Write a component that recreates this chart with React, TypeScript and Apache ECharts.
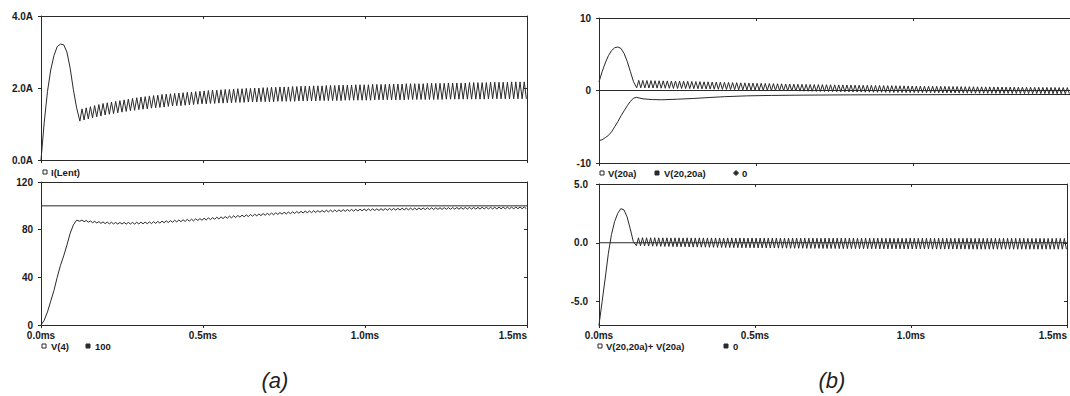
import { useEffect, useRef } from "react";
import * as echarts from "echarts";

// ---------- data ----------
const X_TICKS_MS = [0, 0.5, 1.0, 1.5];
const RIPPLE_START = 0.12; // ms, end of the start-up transient
const RIPPLE_PERIOD = 0.013; // ms, switching period
const TRANSIENT_T = [0, 0.01, 0.02, 0.03, 0.04, 0.05, 0.06, 0.07, 0.08, 0.09, 0.1, 0.11];

// (a) top: I(Lent)
const I_LENT_TRANSIENT = [0, 1.05, 1.9, 2.5, 2.9, 3.15, 3.22, 3.2, 3.0, 2.55, 1.95, 1.45];
const I_LENT_PEAKS = [
  1.42, 1.45, 1.48, 1.51, 1.54, 1.57,
  1.59, 1.61, 1.63, 1.65, 1.67, 1.69, 1.71, 1.73,
  1.75, 1.76, 1.78, 1.79, 1.8, 1.82, 1.83, 1.84,
  1.85, 1.86, 1.87, 1.88, 1.89, 1.9, 1.91, 1.92,
  1.93, 1.94, 1.94, 1.95, 1.96, 1.96, 1.97, 1.98,
  1.98, 1.99, 1.99, 2.0, 2.0, 2.01, 2.01, 2.02,
  2.02, 2.03, 2.03, 2.03, 2.04, 2.04, 2.05, 2.05,
  2.05, 2.06, 2.06, 2.06, 2.07, 2.07, 2.07, 2.08,
  2.08, 2.08, 2.08, 2.09, 2.09, 2.09, 2.09, 2.1,
  2.1, 2.1, 2.1, 2.11, 2.11, 2.11, 2.11, 2.12,
  2.12, 2.12, 2.12, 2.12, 2.13, 2.13, 2.13, 2.13,
  2.13, 2.14, 2.14, 2.14, 2.14, 2.14, 2.15, 2.15,
  2.15, 2.15, 2.15, 2.16, 2.16, 2.16, 2.16, 2.16,
  2.17, 2.17, 2.17, 2.17,
];
const I_LENT_TROUGHS = [
  1.08, 1.11, 1.14, 1.17, 1.2, 1.22, 1.25,
  1.27, 1.29, 1.31, 1.33, 1.35, 1.37, 1.38, 1.4,
  1.41, 1.42, 1.44, 1.45, 1.46, 1.47, 1.49,
  1.5, 1.51, 1.51, 1.52, 1.53, 1.54, 1.55, 1.56,
  1.56, 1.57, 1.57, 1.58, 1.58, 1.59, 1.59, 1.6,
  1.6, 1.6, 1.61, 1.61, 1.61, 1.62, 1.62, 1.62,
  1.62, 1.63, 1.63, 1.63, 1.63, 1.63, 1.64, 1.64, 1.64, 1.64, 1.64, 1.65, 1.65, 1.65, 1.65,
  1.65, 1.65, 1.66, 1.66, 1.66, 1.66, 1.66, 1.66, 1.66, 1.67, 1.67, 1.67, 1.67, 1.67, 1.67, 1.67, 1.67, 1.68, 1.68, 1.68, 1.68, 1.68, 1.68,
  1.68, 1.68, 1.68, 1.69, 1.69, 1.69, 1.69, 1.69, 1.69, 1.69, 1.69, 1.69, 1.69, 1.7, 1.7, 1.7, 1.7, 1.7, 1.7, 1.7, 1.7, 1.7, 1.7,
];

// (a) bottom: V(4) and the 100 reference
const V4_TRANSIENT = [0, 4, 11, 20, 29, 40, 50, 58, 67, 77, 84, 88];
const V4_PEAKS = [
  88.1, 87.7, 87.3, 87.0, 86.7, 86.5, 86.3, 86.2, 86.1, 86.1,
  86.1, 86.1, 86.1, 86.2, 86.3, 86.4, 86.5, 86.7, 86.9, 87.2,
  87.4, 87.6, 87.9, 88.1, 88.3, 88.6, 88.8, 89.1, 89.3, 89.6,
  89.9, 90.1, 90.4, 90.7, 91.0, 91.3, 91.6, 91.9, 92.2, 92.4,
  92.7, 93.0, 93.2, 93.5, 93.7, 93.9, 94.2, 94.4, 94.6, 94.8,
  95.0, 95.2, 95.4, 95.6, 95.7, 95.9, 96.0, 96.1, 96.3, 96.4,
  96.5, 96.6, 96.8, 96.9, 97.0, 97.1, 97.2, 97.3, 97.4, 97.5,
  97.5, 97.6, 97.7, 97.8, 97.8, 97.9, 98.0, 98.0, 98.1, 98.1,
  98.2, 98.2, 98.3, 98.3, 98.4, 98.4, 98.5, 98.5, 98.6, 98.6,
  98.6, 98.7, 98.7, 98.7, 98.7, 98.8, 98.8, 98.8, 98.8, 98.9,
  98.9, 98.9, 98.9, 99.0, 99.0, 99.0,
];
const V4_TROUGHS = [
  87.0, 86.7, 86.3, 85.9, 85.6, 85.3, 85.1, 84.9, 84.8, 84.7,
  84.7, 84.7, 84.7, 84.7, 84.8, 84.9, 85.0, 85.1, 85.3, 85.5,
  85.8, 86.0, 86.2, 86.5, 86.7, 86.9, 87.2, 87.4, 87.7, 87.9,
  88.2, 88.5, 88.7, 89.0, 89.3, 89.6, 89.9, 90.2, 90.5, 90.8,
  91.0, 91.3, 91.6, 91.8, 92.1, 92.3, 92.5, 92.8, 93.0, 93.2,
  93.4, 93.6, 93.8, 94.0, 94.2, 94.3, 94.5, 94.6, 94.7, 94.9,
  95.0, 95.1, 95.2, 95.4, 95.5, 95.6, 95.7, 95.8, 95.9, 96.0,
  96.1, 96.1, 96.2, 96.3, 96.4, 96.4, 96.5, 96.6, 96.6, 96.7,
  96.7, 96.8, 96.8, 96.9, 96.9, 97.0, 97.0, 97.1, 97.1, 97.2,
  97.2, 97.2, 97.3, 97.3, 97.3, 97.3, 97.4, 97.4, 97.4, 97.4,
  97.5, 97.5, 97.5, 97.5, 97.6, 97.6, 97.6,
];
const REF_100 = 100;

// (b) top: V(20a), V(20,20a), 0
const V20A_TRANSIENT = [1.2, 2.6, 3.8, 4.8, 5.5, 5.9, 6.0, 5.8, 5.1, 4.0, 2.6, 1.2];
const V20A_PEAKS = [
  1.4, 1.39, 1.38, 1.37, 1.35, 1.34, 1.33, 1.32, 1.31, 1.3, 1.29, 1.28, 1.26, 1.25,
  1.23, 1.22, 1.2, 1.19, 1.17, 1.16, 1.14, 1.12, 1.11, 1.09, 1.08, 1.06, 1.05, 1.03, 1.02, 1.0,
  0.99, 0.97, 0.96, 0.95, 0.93, 0.92, 0.9, 0.89, 0.88, 0.86, 0.85,
  0.84, 0.83, 0.82, 0.82, 0.81, 0.8, 0.79, 0.78, 0.77, 0.77, 0.76, 0.75,
  0.74, 0.73, 0.72, 0.72, 0.71, 0.7, 0.69, 0.68, 0.67, 0.67, 0.66, 0.65, 0.64, 0.63, 0.62,
  0.61, 0.61, 0.6, 0.59, 0.59, 0.58, 0.57, 0.57, 0.56, 0.55, 0.55, 0.54, 0.53, 0.53, 0.52,
  0.51, 0.51, 0.5, 0.5, 0.49, 0.49, 0.48, 0.48, 0.47, 0.47, 0.46, 0.46, 0.45, 0.45, 0.44, 0.44,
  0.43, 0.43, 0.42, 0.42, 0.41, 0.41, 0.4,
];
const V20A_TROUGHS = [
  0.37, 0.36, 0.35, 0.34, 0.34, 0.33, 0.32, 0.31, 0.3, 0.29, 0.28, 0.28, 0.27, 0.26, 0.25,
  0.24, 0.22, 0.21, 0.2, 0.18, 0.17, 0.16, 0.14, 0.13, 0.12, 0.1, 0.09, 0.08, 0.06, 0.05,
  0.04, 0.02, 0.01, 0.0, -0.01, -0.02, -0.04, -0.05, -0.06, -0.07, -0.09, -0.1,
  -0.11, -0.12, -0.13, -0.14, -0.15, -0.15, -0.16, -0.17, -0.18, -0.19, -0.2,
  -0.21, -0.21, -0.22, -0.23, -0.23, -0.24, -0.25, -0.25, -0.26, -0.27, -0.27, -0.28, -0.29, -0.29, -0.3,
  -0.3, -0.31, -0.31, -0.32, -0.32, -0.33, -0.33, -0.34, -0.34, -0.35, -0.35, -0.36, -0.36, -0.37, -0.37, -0.38,
  -0.38, -0.38, -0.39, -0.39, -0.39, -0.4, -0.4, -0.4, -0.41, -0.41, -0.41, -0.42, -0.42, -0.42, -0.43, -0.43,
  -0.43, -0.44, -0.44, -0.44, -0.45, -0.45, -0.45,
];
const V2020A_T = [0, 0.01, 0.02, 0.03, 0.04, 0.05, 0.06, 0.07, 0.08, 0.09, 0.1, 0.11, 0.12, 0.14, 0.17, 0.2, 0.25, 0.3, 0.35, 0.4, 0.47, 0.55, 0.65, 0.8, 1.0, 1.2, 1.5];
const V2020A_V = [-6.9, -6.8, -6.5, -6.2, -5.7, -5.0, -4.3, -3.5, -2.8, -2.1, -1.5, -1.05, -0.95, -1.15, -1.25, -1.28, -1.2, -1.1, -0.97, -0.85, -0.74, -0.68, -0.64, -0.6, -0.58, -0.56, -0.55];
const ZERO = 0;

// (b) bottom: V(20,20a)+V(20a), 0
const SUM_TRANSIENT = [-7.0, -5.0, -3.0, -0.9, 0.7, 1.8, 2.5, 2.9, 2.8, 2.2, 1.2, 0.1];
const SUM_PEAKS = [
  0.42, 0.43, 0.42, 0.42, 0.43, 0.42, 0.42, 0.42, 0.41, 0.42,
  0.42, 0.41, 0.42, 0.41, 0.41, 0.42, 0.41, 0.41, 0.41, 0.41,
  0.41, 0.4, 0.41, 0.41, 0.4, 0.41, 0.4, 0.4, 0.41, 0.4,
  0.4, 0.4, 0.4, 0.4, 0.4, 0.4, 0.39, 0.4, 0.4, 0.4,
  0.39, 0.4, 0.39, 0.4, 0.39, 0.39, 0.4, 0.39, 0.39, 0.39,
  0.39, 0.39, 0.39, 0.39, 0.39, 0.39, 0.39, 0.38, 0.39, 0.39,
  0.39, 0.38, 0.39, 0.38, 0.39, 0.38, 0.38, 0.39, 0.38, 0.38,
  0.38, 0.38, 0.38, 0.38, 0.38, 0.38, 0.38, 0.38, 0.38, 0.38,
  0.38, 0.38, 0.38, 0.37, 0.38, 0.38, 0.37, 0.38, 0.38, 0.37,
  0.38, 0.37, 0.38, 0.37, 0.37, 0.38, 0.37, 0.37, 0.37, 0.37,
  0.37, 0.37, 0.37, 0.37, 0.37, 0.37,
];
const SUM_TROUGHS = [
  -0.25, -0.26, -0.27, -0.28, -0.29, -0.3, -0.31, -0.32, -0.32, -0.33,
  -0.34, -0.35, -0.35, -0.36, -0.37, -0.37, -0.38, -0.38, -0.39, -0.39,
  -0.4, -0.4, -0.41, -0.41, -0.42, -0.42, -0.43, -0.43, -0.43, -0.44,
  -0.44, -0.44, -0.45, -0.45, -0.45, -0.46, -0.46, -0.46, -0.47, -0.47,
  -0.47, -0.47, -0.48, -0.48, -0.48, -0.48, -0.49, -0.49, -0.49, -0.49,
  -0.5, -0.5, -0.5, -0.5, -0.5, -0.51, -0.51, -0.51, -0.51, -0.51,
  -0.52, -0.52, -0.52, -0.52, -0.52, -0.52, -0.53, -0.53, -0.53, -0.53,
  -0.53, -0.53, -0.53, -0.54, -0.54, -0.54, -0.54, -0.54, -0.54, -0.54,
  -0.54, -0.54, -0.55, -0.55, -0.55, -0.55, -0.55, -0.55, -0.55, -0.55,
  -0.55, -0.55, -0.55, -0.55, -0.55, -0.55, -0.55, -0.55, -0.55, -0.55,
  -0.55, -0.55, -0.55, -0.55, -0.55, -0.55, -0.55,
];

// ---------- helpers ----------
function buildWave(transient: number[], troughs: number[], peaks: number[]) {
  const pts: number[][] = TRANSIENT_T.map((t, i) => [t, transient[i]]);
  troughs.forEach((v, i) => {
    const t = RIPPLE_START + i * RIPPLE_PERIOD;
    pts.push([+t.toFixed(5), v]);
    if (i < peaks.length) pts.push([+(t + RIPPLE_PERIOD / 2).toFixed(5), peaks[i]]);
  });
  return pts;
}
const flat = (v: number) => [
  [X_TICKS_MS[0], v],
  [X_TICKS_MS[X_TICKS_MS.length - 1], v],
];

const INK = "#2a2a2a";
const FONT = '"Liberation Sans", Arial, sans-serif';

export default function App() {
  const ref = useRef<HTMLDivElement>(null);
  useEffect(() => {
    document.body.style.margin = "0";
    const chart = echarts.init(ref.current!, null, { renderer: "svg" });

    const grids = [
      { left: 41, top: 16, width: 486, height: 144 },
      { left: 41, top: 182, width: 486, height: 143 },
      { left: 599, top: 18, width: 480, height: 145 },
      { left: 599, top: 184, width: 480, height: 141 },
    ];
    const labelStyle = { color: "#1a1a1a", fontSize: 10, fontFamily: FONT, fontWeight: "bold" as const };
    const lineStyle = { color: INK, width: 1 };

    const xAxes: any[] = [];
    const yAxes: any[] = [];
    const yCfg = [
      { min: 0, max: 4, interval: 2, fmt: (v: number) => v.toFixed(1) + "A", margin: 8 },
      { min: 0, max: 120, interval: 40, fmt: (v: number) => String(v), margin: 8 },
      { min: -10, max: 10, interval: 10, fmt: (v: number) => String(v), margin: 8 },
      { min: -7, max: 5, custom: [-5, 0, 5], fmt: (v: number) => v.toFixed(1), margin: 11 },
    ];
    grids.forEach((_, g) => {
      const showX = g === 1 || g === 3;
      xAxes.push({
        type: "value", gridIndex: g, min: 0, max: 1.5, interval: 0.5, position: "bottom",
        axisLine: { show: true, onZero: false, lineStyle },
        axisTick: { show: true, length: 3, lineStyle },
        splitLine: { show: false },
        axisLabel: { show: showX, ...labelStyle, margin: 5, formatter: (v: number) => v.toFixed(1) + "ms", alignMaxLabel: "right" },
      });
      xAxes.push({
        type: "value", gridIndex: g, min: 0, max: 1.5, interval: 0.5, position: "top",
        axisLine: { show: true, onZero: false, lineStyle },
        axisTick: { show: true, inside: true, length: 3, lineStyle },
        splitLine: { show: false }, axisLabel: { show: false },
      });
      const c: any = yCfg[g];
      const base: any = { type: "value", gridIndex: g, min: c.min, max: c.max, splitLine: { show: false } };
      if (c.interval) base.interval = c.interval;
      yAxes.push({
        ...base, position: "left",
        axisLine: { show: true, onZero: false, lineStyle },
        axisTick: { show: true, length: 3, lineStyle, ...(c.custom ? { customValues: c.custom } : {}) },
        axisLabel: { ...labelStyle, margin: c.margin, formatter: c.fmt, ...(c.custom ? { customValues: c.custom } : {}) },
      });
      yAxes.push({
        ...base, position: "right",
        axisLine: { show: true, onZero: false, lineStyle },
        axisTick: { show: true, inside: true, length: 3, lineStyle, ...(c.custom ? { customValues: c.custom } : {}) },
        axisLabel: { show: false },
      });
    });

    const line = (name: string, g: number, data: number[][]) => ({
      name, type: "line", xAxisIndex: 2 * g, yAxisIndex: 2 * g, data,
      showSymbol: false, symbol: "none", lineStyle: { color: INK, width: 1 }, clip: true,
    });

    const series = [
      line("I(Lent)", 0, buildWave(I_LENT_TRANSIENT, I_LENT_TROUGHS, I_LENT_PEAKS)),
      line("V(4)", 1, buildWave(V4_TRANSIENT, V4_TROUGHS, V4_PEAKS)),
      line("100", 1, flat(REF_100)),
      line("V(20a)", 2, buildWave(V20A_TRANSIENT, V20A_TROUGHS, V20A_PEAKS)),
      line("V(20,20a)", 2, V2020A_T.map((t, i) => [t, V2020A_V[i]])),
      line("0", 2, flat(ZERO)),
      line("V(20,20a)+ V(20a)", 3, buildWave(SUM_TRANSIENT, SUM_TROUGHS, SUM_PEAKS)),
      line("0 ", 3, flat(ZERO)),
    ];

    const legendItems = [
      { kind: "hollow", x: 45, y: 172, text: "I(Lent)", tx: 51 },
      { kind: "hollow", x: 44, y: 346, text: "V(4)", tx: 51 },
      { kind: "filled", x: 88, y: 346, text: "100", tx: 95 },
      { kind: "hollow", x: 602, y: 173, text: "V(20a)", tx: 608 },
      { kind: "filled", x: 657, y: 173, text: "V(20,20a)", tx: 664 },
      { kind: "diamond", x: 736, y: 173, text: "0", tx: 742 },
      { kind: "hollow", x: 600, y: 346, text: "V(20,20a)+ V(20a)", tx: 606 },
      { kind: "filled", x: 726, y: 346, text: "0", tx: 733 },
    ];
    const graphic: any[] = [];
    legendItems.forEach((it) => {
      if (it.kind === "diamond") {
        graphic.push({
          type: "polygon",
          shape: { points: [[it.x, it.y - 2.5], [it.x + 2.5, it.y], [it.x, it.y + 2.5], [it.x - 2.5, it.y]] },
          style: { fill: INK, stroke: INK, lineWidth: 1 },
        });
      } else {
        graphic.push({
          type: "rect",
          shape: { x: it.x - 2, y: it.y - 2, width: 4, height: 4 },
          style: { fill: it.kind === "filled" ? INK : "#fff", stroke: INK, lineWidth: 1 },
        });
      }
      graphic.push({
        type: "text",
        style: { text: it.text, x: it.tx, y: it.y, fill: "#1a1a1a", fontSize: 9.5, fontFamily: FONT, fontWeight: "bold", verticalAlign: "middle" },
      });
    });
    graphic.push({
      type: "text",
      style: { text: "(a)", x: 275, y: 380, fill: "#222", fontSize: 22, fontStyle: "italic", fontFamily: FONT, align: "center", verticalAlign: "middle" },
    });
    graphic.push({
      type: "text",
      style: { text: "(b)", x: 832, y: 380, fill: "#222", fontSize: 22, fontStyle: "italic", fontFamily: FONT, align: "center", verticalAlign: "middle" },
    });

    chart.setOption({
      animation: false,
      backgroundColor: "#fff",
      grid: grids,
      xAxis: xAxes,
      yAxis: yAxes,
      series,
      graphic,
    });
    return () => chart.dispose();
  }, []);
  return <div ref={ref} style={{ width: 1070, height: 396 }} />;
}
